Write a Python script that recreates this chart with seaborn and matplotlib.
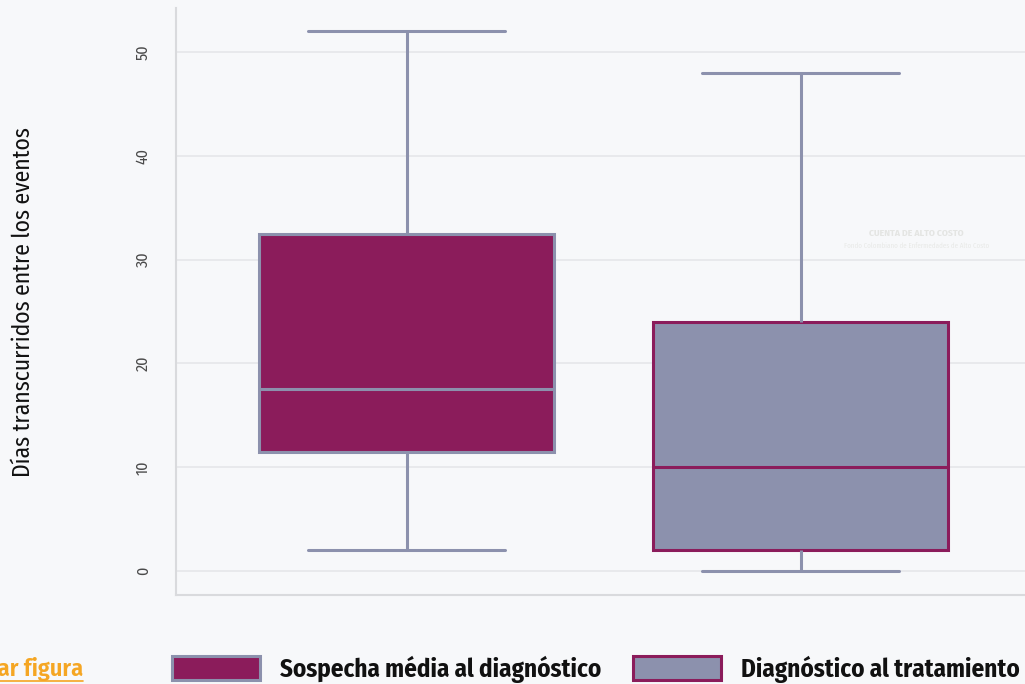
import numpy as np
import pandas as pd
import matplotlib.pyplot as plt
import matplotlib.patches as mpatches
import matplotlib.lines as mlines
import seaborn as sns

# Datos: resumen de cinco números por grupo (mín, Q1, mediana, Q3, máx)
grupos = ['Sospecha média al diagnóstico', 'Diagnóstico al tratamiento']
sospecha_diag = [2, 11.5, 17.5, 32.5, 52]
diag_trat = [0, 2, 10, 24, 48]

color_vino = '#8B1C5B'
color_gris = '#8C91AD'
fondo = '#F7F8FA'
fuente = ['Fira Sans Condensed', 'Barlow Condensed', 'DejaVu Sans']

df = pd.DataFrame({
    'grupo': [grupos[0]] * len(sospecha_diag) + [grupos[1]] * len(diag_trat),
    'dias': sospecha_diag + diag_trat,
})

sns.set_style('white')
plt.rcParams['font.family'] = fuente

fig = plt.figure(figsize=(10.25, 6.84), dpi=100, facecolor=fondo)
ax = fig.add_axes([0.1717, 0.130, 0.8283, 0.858])
ax.set_facecolor(fondo)

# Primer grupo: relleno vino, bordes grises
sns.boxplot(data=df[df['grupo'] == grupos[0]], x='grupo', y='dias', order=grupos,
            color=color_vino, linecolor=color_gris, linewidth=2.2, width=0.75,
            whis=(0, 100), capwidths=0.5, saturation=1, ax=ax)
# Segundo grupo: relleno gris, bordes vino, bigotes grises
sns.boxplot(data=df[df['grupo'] == grupos[1]], x='grupo', y='dias', order=grupos,
            color=color_gris, linecolor=color_vino, linewidth=2.2, width=0.75,
            whis=(0, 100), capwidths=0.5, saturation=1,
            whiskerprops={'color': color_gris}, capprops={'color': color_gris}, ax=ax)

ax.set_xlim(-0.586, 1.57)
ax.set_ylim(-2.3, 54.2)
ax.set_yticks([0, 10, 20, 30, 40, 50])
ax.set_xticks([])
ax.set_xlabel('')
ax.set_ylabel('Días transcurridos entre los eventos', fontsize=17, fontweight='normal',
              color='#111111', labelpad=72)
ax.tick_params(axis='y', length=0, pad=18, labelsize=11.5, labelcolor='#4A4A4A')
for lbl in ax.get_yticklabels():
    lbl.set_rotation(90)
    lbl.set_va('center')
ax.grid(axis='y', color='#E6E7EA', linewidth=1.2)
ax.set_axisbelow(True)
for s in ['top', 'right']:
    ax.spines[s].set_visible(False)
for s in ['left', 'bottom']:
    ax.spines[s].set_color('#D9DADD')
    ax.spines[s].set_linewidth(1.5)

# Marca de agua
fig.text(0.894, 0.658, 'CUENTA DE ALTO COSTO', ha='center', va='center',
         fontsize=7, fontweight='bold', color='#E4E5E3')
fig.text(0.894, 0.640, 'Fondo Colombiano de Enfermedades de Alto Costo', ha='center',
         va='center', fontsize=5, color='#E8E9E7')

# Leyenda
handles = [
    mpatches.Patch(facecolor=color_vino, edgecolor=color_gris, linewidth=2.2, label=grupos[0]),
    mpatches.Patch(facecolor=color_gris, edgecolor=color_vino, linewidth=2.2, label=grupos[1]),
]
leg = fig.legend(handles=handles, loc='center left', bbox_to_anchor=(0.146, 0.022),
                 ncol=2, frameon=False, handlelength=3.5, handleheight=1.1,
                 handletextpad=0.8, columnspacing=1.3,
                 prop={'family': fuente, 'weight': 'bold', 'size': 18})
for t in leg.get_texts():
    t.set_color('#111111')

# Enlace recortado
fig.text(0.081, 0.022, 'Descargar figura', ha='right', va='center', fontsize=17.5,
         fontweight='semibold', color='#F5A623')
fig.add_artist(mlines.Line2D([0.0, 0.081], [0.004, 0.004], color='#F5A623', linewidth=1.2))

fig.savefig('out.png', dpi=100, facecolor=fondo)
